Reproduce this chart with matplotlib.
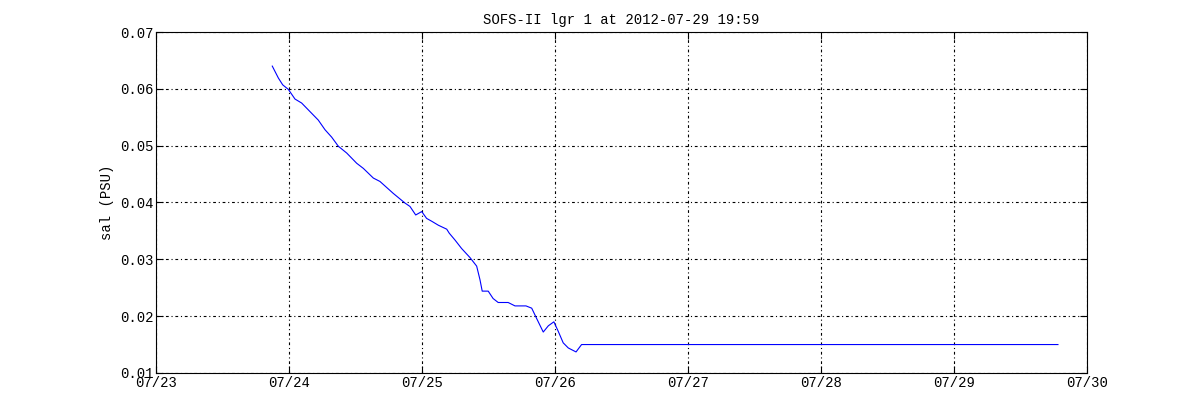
import numpy as np
import matplotlib
matplotlib.use("Agg")
import matplotlib.pyplot as plt
import matplotlib.dates as mdates

# salinity trace: day of July 2012 and value (PSU)
day = [23.874, 23.920, 23.953, 23.995, 24.045, 24.095, 24.145, 24.220, 24.271,
       24.321, 24.371, 24.434, 24.509, 24.559, 24.634, 24.684, 24.784, 24.872,
       24.910, 24.953, 24.998, 25.035, 25.073, 25.123, 25.186, 25.205, 25.248,
       25.298, 25.361, 25.411, 25.436, 25.453, 25.498, 25.535, 25.573, 25.648,
       25.699, 25.782, 25.825, 25.862, 25.912, 25.950, 25.992, 26.025, 26.062,
       26.100, 26.158, 26.200, 29.782]
sal = [0.0640, 0.0619, 0.0607, 0.0599, 0.0582, 0.0575, 0.0563, 0.0545, 0.0528,
       0.0515, 0.0499, 0.0487, 0.0469, 0.0460, 0.0443, 0.0437, 0.0416, 0.0399,
       0.0393, 0.0378, 0.0384, 0.0372, 0.0367, 0.0360, 0.0353, 0.0346, 0.0334,
       0.0319, 0.0303, 0.0288, 0.0264, 0.0244, 0.0244, 0.0231, 0.0224, 0.0224,
       0.0218, 0.0218, 0.0214, 0.0196, 0.0172, 0.0183, 0.0190, 0.0173, 0.0153,
       0.0144, 0.0137, 0.0150, 0.0150]

title = "SOFS-II lgr 1 at 2012-07-29 19:59"
ylabel = "sal (PSU)"

base = np.datetime64("2012-07-01T00:00")
t = [base + np.timedelta64(int(round((d - 1) * 1440)), "m") for d in day]

plt.rcParams["font.family"] = ["Liberation Mono", "DejaVu Sans Mono"]
plt.rcParams["font.size"] = 10

fig = plt.figure(figsize=(12, 4.2), dpi=100)
ax = fig.add_axes([0.13, 0.112, 0.7758, 0.8118])

ax.plot(t, sal, color="blue", lw=0.8)

ax.set_xlim(np.datetime64("2012-07-23"), np.datetime64("2012-07-30"))
ax.set_ylim(0.01, 0.07)
ax.set_yticks(np.arange(0.01, 0.0701, 0.01))
ax.yaxis.set_major_formatter(plt.FormatStrFormatter("%.2f"))
ax.xaxis.set_major_locator(mdates.DayLocator())
ax.xaxis.set_major_formatter(mdates.DateFormatter("%m/%d"))

# MATLAB-style dotted grid
ax.grid(True, color="black", linestyle=(0, (2.5, 2.5, 1, 2.5)), lw=0.8)
ax.tick_params(direction="in", top=True, right=True, length=5, width=0.8, pad=2)
for s in ax.spines.values():
    s.set_linewidth(0.8)

ax.set_title(title, fontsize=10, pad=6)
ax.set_ylabel(ylabel, labelpad=4)

fig.savefig("out.png", dpi=100)
